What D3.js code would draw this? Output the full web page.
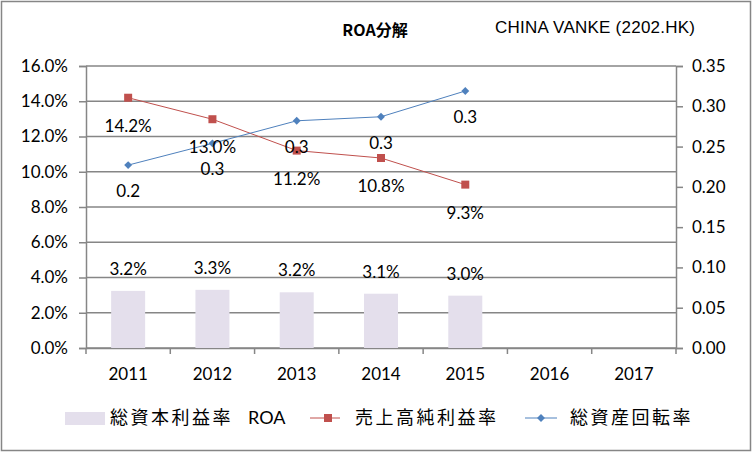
<!DOCTYPE html>
<html lang="ja">
  <head>
    <meta charset="UTF-8" />
    <title>ROA分解</title>
    <script src="https://d3js.org/d3.v7.min.js"></script>
    <style>
      body { margin: 0; background: #fff; }
      text { font-family: Lato, "Liberation Sans", sans-serif; fill: #000; }
      .jp { font-family: "Noto Sans CJK JP", sans-serif; }
    </style>
  </head>
  <body>
    <svg id="chart" width="752" height="452"></svg>
    <script>
      // data
      const years = ["2011", "2012", "2013", "2014", "2015", "2016", "2017"];
      const roa = [3.24, 3.3, 3.16, 3.08, 2.97];          // 総資本利益率 ROA (%)
      const netMargin = [14.2, 12.98, 11.2, 10.78, 9.27]; // 売上高純利益率 (%)
      const turnover = [0.227, 0.254, 0.282, 0.287, 0.319]; // 総資産回転率
      const leftTicks = [0, 2, 4, 6, 8, 10, 12, 14, 16];
      const rightTicks = [0, 0.05, 0.1, 0.15, 0.2, 0.25, 0.3, 0.35];

      const margin = { top: 66, right: 76, bottom: 104, left: 86 },
        width = 752 - margin.left - margin.right,
        height = 452 - margin.top - margin.bottom;
      const grey = "#868686";
      const fs = 17;

      const svgRoot = d3.select("#chart");
      svgRoot.append("rect")
        .attr("x", 1.5).attr("y", 1.5).attr("width", 749).attr("height", 449)
        .attr("fill", "#fff").attr("stroke", grey).attr("stroke-width", 1.5);

      const svg = svgRoot.append("g")
        .attr("transform", `translate(${margin.left},${margin.top})`);

      const x = d3.scaleBand().domain(years).range([0, width]);
      const yL = d3.scaleLinear().domain([0, 16]).range([height, 0]);
      const yR = d3.scaleLinear().domain([0, 0.35]).range([height, 0]);

      // gridlines
      svg.selectAll(".grid").data(leftTicks).enter().append("line")
        .attr("x1", 0).attr("x2", width)
        .attr("y1", d => yL(d)).attr("y2", d => yL(d))
        .attr("stroke", grey).attr("stroke-width", 1.5);

      // left axis
      const axL = svg.append("g")
        .call(d3.axisLeft(yL).tickValues(leftTicks).tickSize(7).tickFormat(d => d.toFixed(1) + "%"));
      axL.select(".domain").attr("stroke", grey).attr("stroke-width", 1.5);
      axL.selectAll(".tick line").attr("stroke", grey).attr("stroke-width", 1.5);
      axL.selectAll("text").attr("font-size", fs).attr("dx", -8);

      // right axis
      const axR = svg.append("g").attr("transform", `translate(${width},0)`)
        .call(d3.axisRight(yR).tickValues(rightTicks).tickSize(7).tickFormat(d3.format(".2f")));
      axR.select(".domain").attr("stroke", grey).attr("stroke-width", 1.5);
      axR.selectAll(".tick line").attr("stroke", grey).attr("stroke-width", 1.5);
      axR.selectAll("text").attr("font-size", fs).attr("dx", 6);

      // bottom axis
      const axB = svg.append("g").attr("transform", `translate(0,${height})`)
        .call(d3.axisBottom(x).tickSize(0));
      axB.select(".domain").attr("stroke", grey).attr("stroke-width", 1.5);
      axB.selectAll("text").attr("font-size", fs).attr("dy", 29);
      svg.selectAll(".xtick").data(d3.range(years.length + 1)).enter().append("line")
        .attr("x1", i => i * x.step()).attr("x2", i => i * x.step())
        .attr("y1", height).attr("y2", height + 6)
        .attr("stroke", grey).attr("stroke-width", 1.5);

      const cx = (i) => x(years[i]) + x.bandwidth() / 2;
      const barW = 34;

      // bars
      svg.selectAll(".bar").data(roa).enter().append("rect")
        .attr("x", (d, i) => cx(i) - barW / 2)
        .attr("y", d => yL(d))
        .attr("width", barW)
        .attr("height", d => height - yL(d))
        .attr("fill", "#e4dfec");
      svg.selectAll(".barLabel").data(roa).enter().append("text")
        .attr("x", (d, i) => cx(i)).attr("y", d => yL(d) - 16)
        .attr("text-anchor", "middle").attr("font-size", fs)
        .text(d => d.toFixed(1) + "%");

      // net margin line
      const lineL = d3.line().x((d, i) => cx(i)).y(d => yL(d));
      svg.append("path").datum(netMargin).attr("d", lineL)
        .attr("fill", "none").attr("stroke", "#c0504d").attr("stroke-width", 1);
      svg.selectAll(".redPt").data(netMargin).enter().append("rect")
        .attr("x", (d, i) => cx(i) - 4).attr("y", d => yL(d) - 4)
        .attr("width", 8).attr("height", 8).attr("fill", "#c0504d");

      // turnover line
      const lineR = d3.line().x((d, i) => cx(i)).y(d => yR(d));
      svg.append("path").datum(turnover).attr("d", lineR)
        .attr("fill", "none").attr("stroke", "#4f81bd").attr("stroke-width", 1);
      svg.selectAll(".bluePt").data(turnover).enter().append("path")
        .attr("d", d3.symbol().type(d3.symbolDiamond2 || d3.symbolDiamond).size(40))
        .attr("transform", (d, i) => `translate(${cx(i)},${yR(d)})`)
        .attr("fill", "#4f81bd");

      // labels for lines
      svg.selectAll(".redLabel").data(netMargin).enter().append("text")
        .attr("x", (d, i) => cx(i)).attr("y", d => yL(d) + 34)
        .attr("text-anchor", "middle").attr("font-size", fs)
        .text(d => d.toFixed(1) + "%");
      svg.selectAll(".blueLabel").data(turnover).enter().append("text")
        .attr("x", (d, i) => cx(i)).attr("y", d => yR(d) + 32)
        .attr("text-anchor", "middle").attr("font-size", fs)
        .text(d => d.toFixed(1));

      // titles
      svgRoot.append("text").attr("class", "jp").attr("x", 375).attr("y", 36)
        .attr("text-anchor", "middle").attr("font-size", 16).attr("font-weight", "bold")
        .text("ROA分解");
      svgRoot.append("text").attr("x", 595).attr("y", 33)
        .attr("text-anchor", "middle").attr("font-size", 17)
        .style("font-family", "'Liberation Sans Narrow', 'Liberation Sans', sans-serif")
        .style("font-stretch", "condensed")
        .attr("textLength", 200)
        .text("CHINA VANKE (2202.HK)");

      // legend
      const lg = svgRoot.append("g").attr("transform", "translate(0,418)");
      const lt = (xPos, s) => lg.append("text").attr("class", "jp")
        .attr("x", xPos).attr("y", 6).attr("font-size", 18).attr("letter-spacing", 2.5).text(s);
      lg.append("rect").attr("x", 65).attr("y", -6).attr("width", 40).attr("height", 13).attr("fill", "#e4dfec");
      lt(110, "総資本利益率");
      lg.append("text").attr("x", 248).attr("y", 6).attr("font-size", 18).text("ROA");
      lg.append("line").attr("x1", 310).attr("x2", 340).attr("y1", 0).attr("y2", 0).attr("stroke", "#c0504d");
      lg.append("rect").attr("x", 324).attr("y", -4).attr("width", 8).attr("height", 8).attr("fill", "#c0504d");
      lt(355, "売上高純利益率");
      lg.append("line").attr("x1", 525).attr("x2", 557).attr("y1", 0).attr("y2", 0).attr("stroke", "#4f81bd");
      lg.append("path").attr("d", d3.symbol().type(d3.symbolDiamond2 || d3.symbolDiamond).size(40))
        .attr("transform", "translate(541,0)").attr("fill", "#4f81bd");
      lt(570, "総資産回転率");
    </script>
  </body>
</html>
